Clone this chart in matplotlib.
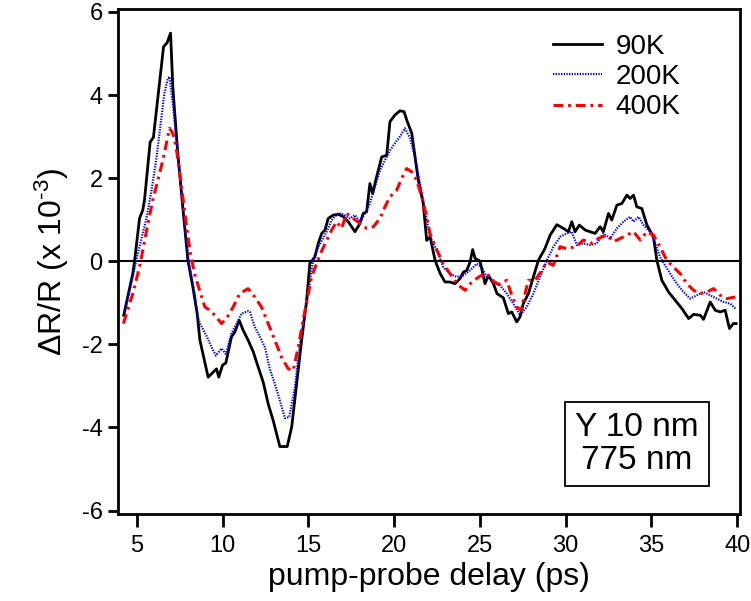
import matplotlib
matplotlib.use("Agg")
import matplotlib.pyplot as plt
import numpy as np

plt.rcParams.update({
    "font.family": ["Liberation Sans", "DejaVu Sans"],
    "mathtext.fontset": "custom",
    "mathtext.rm": "Liberation Sans",
    "mathtext.it": "Liberation Sans:italic",
    "axes.linewidth": 2.0,
    "axes.unicode_minus": False,
})

# transient reflectivity traces, delay in ps, dR/R in units of 1e-3
t_90K = [4.24, 4.77, 4.87, 5.16, 5.35, 5.45, 5.78, 5.97, 6.56, 6.77, 6.97, 7.10, 7.39, 7.68,
         7.98, 8.27, 8.52, 8.68, 9.16, 9.45, 9.65, 9.78, 10.0, 10.19, 10.52, 10.72, 10.97,
         11.2, 11.49, 11.79, 12.08, 12.37, 12.66, 12.95, 13.34, 13.77, 14.03, 14.32, 14.61,
         14.9, 15.09, 15.38, 15.58, 15.78, 15.97, 16.16, 16.45, 16.75, 17.04, 17.33, 17.72,
         18.01, 18.2, 18.4, 18.59, 18.75, 18.98, 19.28, 19.57, 19.76, 20.05, 20.34, 20.58,
         20.77, 21.03, 21.22, 21.41, 21.7, 21.9, 22.1, 22.39, 22.68, 22.97, 23.26, 23.55,
         23.84, 24.04, 24.24, 24.43, 24.58, 24.72, 25.01, 25.3, 25.5, 25.79, 26.0, 26.37,
         26.66, 26.86, 27.15, 27.34, 27.53, 27.83, 28.12, 28.41, 28.8, 29.1, 29.49, 29.87,
         30.16, 30.36, 30.55, 30.8, 31.14, 31.43, 31.72, 32.01, 32.2, 32.5, 32.69, 32.99,
         33.28, 33.57, 33.76, 33.96, 34.15, 34.44, 34.74, 35.12, 35.32, 35.61, 36.0, 36.39,
         36.78, 37.17, 37.46, 37.85, 38.04, 38.43, 38.72, 39.01, 39.3, 39.55, 39.78, 39.94]
r_90K = [-1.30, -0.29, 0.0, 1.03, 1.23, 1.47, 2.87, 2.98, 5.16, 5.26, 5.49, 4.2, 2.6, 1.31,
         0.02, -0.62, -1.26, -1.9, -2.79, -2.67, -2.59, -2.79, -2.5, -2.45, -1.82, -1.70, -1.42,
         -1.66, -1.9, -2.18, -2.55, -2.91, -3.43, -3.83, -4.46, -4.46, -3.99, -2.94, -1.9,
         -0.95, -0.05, 0.1, 0.43, 0.67, 0.75, 1.03, 1.11, 1.13, 1.07, 0.95, 0.71,
         0.91, 1.15, 1.19, 1.87, 1.63, 2.03, 2.51, 2.55, 3.36, 3.52, 3.62, 3.6,
         3.36, 3.08, 2.51, 1.95, 1.39, 0.5, 0.59, 0.02, -0.29, -0.5, -0.5, -0.54,
         -0.42, -0.26, -0.22, -0.02, 0.28, 0.07, 0.0, -0.54, -0.34, -0.54, -0.78, -0.88,
         -1.26, -1.22, -1.46, -1.34, -1.02, -0.78, -0.38, 0.02, 0.31, 0.63, 0.88, 0.79,
         0.71, 0.95, 0.71, 0.87, 0.75, 0.71, 0.67, 0.83, 0.71, 1.15, 0.99, 1.35,
         1.39, 1.59, 1.51, 1.59, 1.31, 1.27, 0.87, 0.59, 0.02, -0.46, -0.74, -0.94,
         -1.14, -1.38, -1.28, -1.3, -1.4, -0.98, -1.18, -1.22, -1.18, -1.62, -1.5, -1.5]

t_200K = [4.28, 5.06, 5.54, 5.83, 6.13, 6.42, 6.61, 6.81, 6.91, 7.1, 7.39, 7.68, 8.02, 8.37,
          8.56, 8.68, 9.07, 9.36, 9.61, 9.94, 10.19, 10.52, 10.82, 11.11, 11.49, 11.59, 11.88,
          12.18, 12.47, 12.76, 13.05, 13.34, 13.64, 13.89, 14.22, 14.51, 14.9, 15.29, 15.58,
          16.07, 16.36, 16.75, 17.04, 17.43, 17.72, 18.01, 18.3, 18.59, 18.88, 19.18, 19.47,
          19.76, 20.05, 20.34, 20.63, 20.93, 21.22, 21.51, 21.8, 22.09, 22.49, 22.87, 23.26,
          23.65, 24.04, 24.43, 24.82, 25.11, 25.4, 25.79, 26.18, 26.57, 26.95, 27.35, 27.73,
          28.12, 28.51, 28.9, 29.28, 29.68, 30.07, 30.36, 30.65, 31.04, 31.43, 31.82, 32.2,
          32.59, 32.99, 33.37, 33.76, 33.96, 34.25, 34.54, 34.93, 35.22, 35.51, 35.8, 36.1,
          36.48, 36.87, 37.26, 37.65, 38.04, 38.43, 38.82, 39.21, 39.6, 39.9]
r_200K = [-1.26, 0.18, 0.99, 1.63, 2.43, 3.4, 4.04, 4.4, 4.44, 3.8, 2.6, 1.31, 0.02, -0.78,
          -1.34, -1.5, -1.8, -2.07, -2.27, -2.1, -2.23, -1.74, -1.5, -1.26, -1.2, -1.22, -1.58,
          -1.82, -2.07, -2.6, -2.95, -3.35, -3.78, -3.75, -3.03, -1.98, -1.02, 0.05, 0.34,
          0.71, 0.99, 1.16, 1.13, 1.03, 1.11, 0.95, 1.15, 1.39, 1.79, 2.19, 2.43,
          2.67, 2.84, 3.0, 3.2, 2.96, 2.51, 1.87, 1.23, 0.59, 0.27, -0.14, -0.3,
          -0.38, -0.34, -0.22, -0.06, -0.14, -0.38, -0.46, -0.58, -0.78, -1.02, -1.3, -1.1,
          -0.78, -0.38, 0.02, 0.34, 0.59, 0.67, 0.71, 0.39, 0.43, 0.39, 0.43, 0.67,
          0.55, 0.79, 0.95, 1.07, 0.95, 1.07, 0.87, 0.71, 0.43, 0.1, -0.1, -0.3,
          -0.54, -0.74, -0.9, -0.82, -0.74, -0.82, -0.9, -0.98, -1.02, -1.14]

t_400K = [4.22, 4.77, 5.16, 5.54, 5.93, 6.23, 6.52, 6.77, 6.91, 7.1, 7.29, 7.49, 7.68, 7.88,
          8.13, 8.37, 8.66, 8.97, 9.26, 9.55, 9.94, 10.23, 10.62, 11.0, 11.49, 11.88, 12.27,
          12.66, 13.05, 13.44, 13.83, 14.12, 14.41, 14.7, 15.0, 15.19, 15.48, 15.78, 16.07,
          16.36, 16.65, 16.94, 17.23, 17.62, 18.01, 18.4, 18.79, 19.18, 19.47, 19.76, 20.15,
          20.44, 20.73, 21.03, 21.32, 21.61, 21.9, 22.09, 22.49, 22.87, 23.26, 23.65, 24.14,
          24.53, 25.01, 25.4, 25.69, 26.08, 26.57, 26.86, 27.15, 27.4, 27.54, 27.83, 28.22,
          28.61, 28.9, 29.28, 29.68, 30.07, 30.46, 30.8, 31.04, 31.53, 31.92, 32.41, 32.8,
          33.19, 33.57, 33.96, 34.35, 34.74, 35.12, 35.51, 35.9, 36.29, 36.68, 37.07, 37.46,
          37.85, 38.24, 38.63, 39.01, 39.4, 39.9]
r_400K = [-1.5, -0.78, -0.14, 0.67, 1.47, 1.95, 2.43, 2.92, 3.2, 3.08, 2.75, 2.19, 1.55, 0.91,
          0.18, -0.3, -0.7, -1.1, -1.18, -1.3, -1.5, -1.38, -1.1, -0.78, -0.66, -0.86, -1.1,
          -1.5, -1.9, -2.31, -2.59, -2.63, -2.07, -1.42, -0.78, -0.38, -0.06, 0.25, 0.5,
          0.75, 0.95, 0.79, 1.15, 1.03, 0.91, 0.79, 0.83, 1.03, 1.31, 1.55, 1.71,
          1.99, 2.23, 2.15, 1.95, 1.55, 1.07, 0.67, 0.27, -0.06, -0.3, -0.54, -0.7,
          -0.5, -0.36, -0.28, -0.46, -0.56, -0.46, -0.82, -1.1, -1.18, -0.94, -0.46, -0.46,
          -0.22, -0.02, -0.1, 0.35, 0.3, 0.34, 0.42, 0.51, 0.43, 0.55, 0.63, 0.47,
          0.55, 0.63, 0.71, 0.51, 0.71, 0.63, 0.34, 0.02, -0.14, -0.3, -0.54, -0.7,
          -0.78, -0.74, -0.66, -0.82, -0.9, -0.86]

fig = plt.figure(figsize=(7.51, 6.01), dpi=100)
ax = fig.add_axes([0.157, 0.145, 0.828, 0.84])

ax.axhline(0, color="black", lw=1.5, zorder=1)
ax.plot(t_90K, r_90K, color="black", lw=2.0, label="90K", zorder=3)
ax.plot(t_200K, r_200K, color="#0000ee", lw=1.6, ls=(0, (0.6, 0.6)), label="200K", zorder=4)
ax.plot(t_400K, r_400K, color="#ff0000", lw=2.2, ls=(0, (3.2, 1.6, 0.9, 1.6)), label="400K", zorder=5)

ax.set_xlim(3.9, 40.15)
ax.set_ylim(-6.08, 6.07)
ax.set_xticks(np.arange(5, 41, 5))
ax.set_yticks(np.arange(-6, 7, 2))
ax.tick_params(axis="both", direction="out", width=2.0, labelsize=17)
ax.tick_params(axis="x", length=9, pad=6)
ax.tick_params(axis="y", length=7, pad=4)

# superscript exponent uses a true hyphen (U+2010) so it is not turned into a minus sign
ax.set_xlabel("pump-probe delay (ps)", fontsize=23, labelpad=4)
ax.set_ylabel("ΔR/R (x 10$^{\\mathregular{\u20103}}$)", fontsize=23, labelpad=8)

leg = ax.legend(loc="upper right", frameon=False, fontsize=20, handlelength=1.75,
                handletextpad=0.5, labelspacing=0.15, bbox_to_anchor=(0.945, 1.0))

ax.text(0.835, 0.138, "Y 10 nm\n775 nm", transform=ax.transAxes, fontsize=24,
        ha="center", va="center", multialignment="center", linespacing=1.1,
        bbox=dict(boxstyle="square,pad=0.3", fc="white", ec="black", lw=1.3))

fig.savefig("out.png", dpi=100)
